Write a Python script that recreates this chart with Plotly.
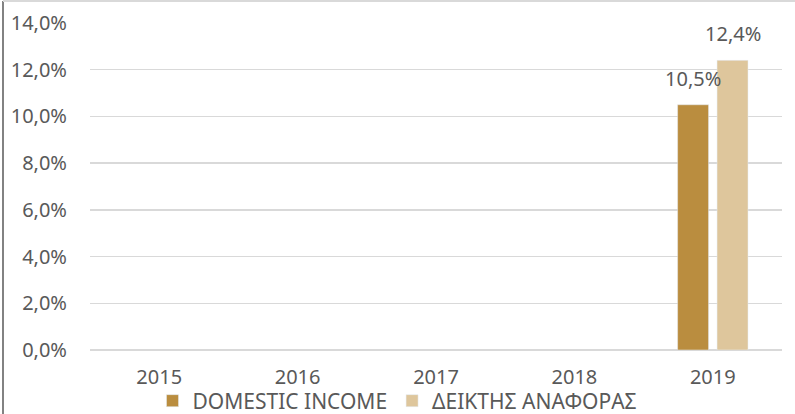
import plotly.graph_objects as go

years = ["2015", "2016", "2017", "2018", "2019"]
domestic_income = [None, None, None, None, 0.105]
reference_index = [None, None, None, None, 0.124]
series_names = ["DOMESTIC INCOME", "ΔΕΙΚΤΗΣ ΑΝΑΦΟΡΑΣ"]
colors = ["#BA8D3F", "#DEC69C"]

W, H = 795, 414
L, R, T, B = 90, 13, 23, 64
pw, ph = W - L - R, H - T - B
LEGEND_CENTER_PX = 401

FONT = "Noto Sans"
TXT = "#595959"
BARGAP, GROUPGAP = 0.43, 0.215

fig = go.Figure()
series = [domestic_income, reference_index]
for name, vals, col in zip(series_names, series, colors):
    fig.add_trace(go.Bar(x=years, y=vals, name=name, marker_color=col))

# data labels placed above bars, offset to each bar of the group
cat_px = pw / len(years)
group_px = cat_px * (1 - BARGAP)
n = len(series)
for i, vals in enumerate(series):
    dx = (i - (n - 1) / 2) * group_px / n
    for k, v in enumerate(vals):
        if v is None:
            continue
        fig.add_annotation(
            x=k, y=v, xref="x", yref="y", text=f"{v*100:.1f}%".replace(".", ","),
            showarrow=False, xshift=dx, yanchor="bottom", yshift=11,
            font=dict(family=FONT, size=20, color=TXT),
        )

fig.update_layout(
    width=W, height=H,
    margin=dict(l=L, r=R, t=T, b=B, pad=0, autoexpand=False),
    paper_bgcolor="white", plot_bgcolor="white",
    separators=",.",
    barmode="group", bargap=BARGAP, bargroupgap=GROUPGAP,
    font=dict(family=FONT, size=20, color=TXT),
    showlegend=True,
    hovermode=False,
    legend=dict(
        orientation="h", xref="container", yref="paper",
        x=0.5, xanchor="center",
        y=(H - B - LEGEND_CENTER_PX) / ph, yanchor="middle",
        font=dict(family=FONT, size=21, color=TXT),
        itemwidth=30, traceorder="normal", tracegroupgap=0,
        bgcolor="rgba(0,0,0,0)",
    ),
    xaxis=dict(
        type="category", range=[-0.5, len(years) - 0.5], autorange=False,
        categoryorder="array", categoryarray=years,
        showgrid=False, showline=False, zeroline=False,
        tickfont=dict(family=FONT, size=20, color=TXT),
        ticklabelstandoff=13, fixedrange=True,
    ),
    yaxis=dict(
        range=[0, 0.14], autorange=False, dtick=0.02, tickformat=".1%",
        showgrid=True, gridcolor="#D9D9D9", gridwidth=1.5,
        zeroline=True, zerolinecolor="#D9D9D9", zerolinewidth=1.5,
        showline=False,
        tickfont=dict(family=FONT, size=20, color=TXT),
        ticklabelstandoff=22, fixedrange=True,
    ),
)

# chart frame (left dark edge, top light edge)
x_left = (3 - L) / pw
y_top = (H - B - 1) / ph
y_bot = (H - B - H) / ph
fig.add_shape(type="line", xref="paper", yref="paper",
              x0=x_left, x1=x_left, y0=y_bot, y1=y_top,
              line=dict(color="#595959", width=1.5))
fig.add_shape(type="line", xref="paper", yref="paper",
              x0=x_left, x1=(W - L) / pw, y0=y_top, y1=y_top,
              line=dict(color="#D9D9D9", width=2))

fig.write_html(
    "out.html",
    config={"displayModeBar": False, "staticPlot": True},
    post_script="document.body.style.margin='0';",
)
